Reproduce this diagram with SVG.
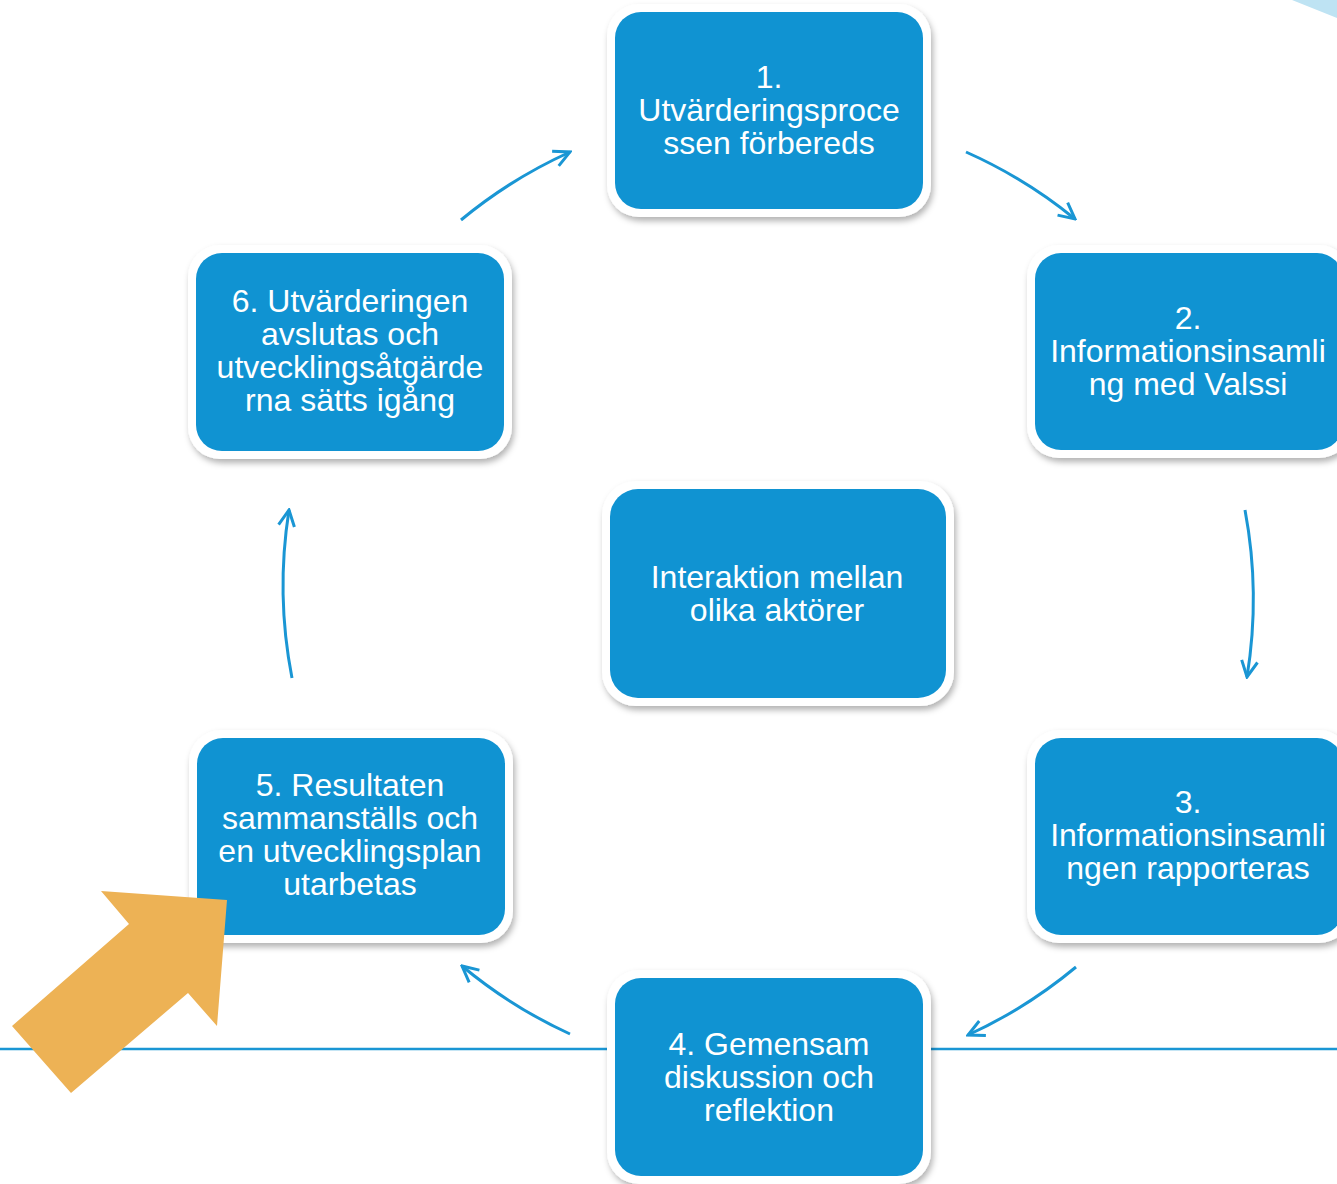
<svg xmlns="http://www.w3.org/2000/svg" width="1337" height="1184" viewBox="0 0 1337 1184">
<defs>
<style>
.frame{fill:#ffffff;filter:url(#sh)}
.box{fill:#1093D2}
.t{font-family:"Liberation Sans",Arial,sans-serif;font-size:32px;fill:#ffffff;text-anchor:middle}
.c{fill:none;stroke:#1A96D4;stroke-width:3;marker-end:url(#ah)}
</style>
<filter id="sh" x="-10%" y="-10%" width="120%" height="125%">
<feDropShadow dx="2" dy="4" stdDeviation="3" flood-color="#000000" flood-opacity="0.3"/>
</filter>
<marker id="ah" viewBox="0 0 20 20" refX="18" refY="10" markerWidth="20" markerHeight="20" markerUnits="userSpaceOnUse" orient="auto">
<polyline points="2,2 18,10 2,18" fill="none" stroke="#1A96D4" stroke-width="3"/>
</marker>
</defs>
<rect width="1337" height="1184" fill="#ffffff"/>
<polygon points="1292,0 1337,0 1337,18" fill="#BEE3F3"/>
<line x1="0" y1="1049" x2="1337" y2="1049" stroke="#1A96D4" stroke-width="2.5"/>
<g id="connectors">
<path class="c" d="M966,152 A483,483 0 0 1 1075,219"/>
<path class="c" d="M1245,510 A483,483 0 0 1 1247,677"/>
<path class="c" d="M1076,967 A483,483 0 0 1 968,1035"/>
<path class="c" d="M570,1034 A483,483 0 0 1 462,966"/>
<path class="c" d="M292,678 A483,483 0 0 1 289,510"/>
<path class="c" d="M461,220 A483,483 0 0 1 570,152"/>
</g>
<g id="node1">
<rect class="frame" x="607" y="4" width="324" height="213" rx="32"/>
<rect class="box" x="615" y="12" width="308" height="197" rx="26"/>
<text class="t" x="769" y="88">1.</text>
<text class="t" x="769" y="121">Utvärderingsproce</text>
<text class="t" x="769" y="154">ssen förbereds</text>
</g>
<g id="node2">
<rect class="frame" x="1027" y="245" width="324" height="213" rx="32"/>
<rect class="box" x="1035" y="253" width="308" height="197" rx="26"/>
<text class="t" x="1188" y="329">2.</text>
<text class="t" x="1188" y="362">Informationsinsamli</text>
<text class="t" x="1188" y="395">ng med Valssi</text>
</g>
<g id="node3">
<rect class="frame" x="1027" y="730" width="324" height="213" rx="32"/>
<rect class="box" x="1035" y="738" width="308" height="197" rx="26"/>
<text class="t" x="1188" y="813">3.</text>
<text class="t" x="1188" y="846">Informationsinsamli</text>
<text class="t" x="1188" y="879">ngen rapporteras</text>
</g>
<g id="node4">
<rect class="frame" x="607" y="970" width="324" height="214" rx="32"/>
<rect class="box" x="615" y="978" width="308" height="198" rx="26"/>
<text class="t" x="769" y="1055">4. Gemensam</text>
<text class="t" x="769" y="1088">diskussion och</text>
<text class="t" x="769" y="1121">reflektion</text>
</g>
<g id="node5">
<rect class="frame" x="189" y="730" width="324" height="213" rx="32"/>
<rect class="box" x="197" y="738" width="308" height="197" rx="26"/>
<text class="t" x="350" y="796">5. Resultaten</text>
<text class="t" x="350" y="829">sammanställs och</text>
<text class="t" x="350" y="862">en utvecklingsplan</text>
<text class="t" x="350" y="895">utarbetas</text>
</g>
<g id="node6">
<rect class="frame" x="188" y="245" width="324" height="214" rx="32"/>
<rect class="box" x="196" y="253" width="308" height="198" rx="26"/>
<text class="t" x="350" y="312">6. Utvärderingen</text>
<text class="t" x="350" y="345">avslutas och</text>
<text class="t" x="350" y="378">utvecklingsåtgärde</text>
<text class="t" x="350" y="411">rna sätts igång</text>
</g>
<g id="center">
<rect class="frame" x="602" y="481" width="352" height="225" rx="34"/>
<rect class="box" x="610" y="489" width="336" height="209" rx="28"/>
<text class="t" x="777" y="588">Interaktion mellan</text>
<text class="t" x="777" y="621">olika aktörer</text>
</g>
<polygon points="101,891 227,900 217,1026 188,993 71,1093 12,1026 129,924" fill="#EDB255"/>
</svg>
